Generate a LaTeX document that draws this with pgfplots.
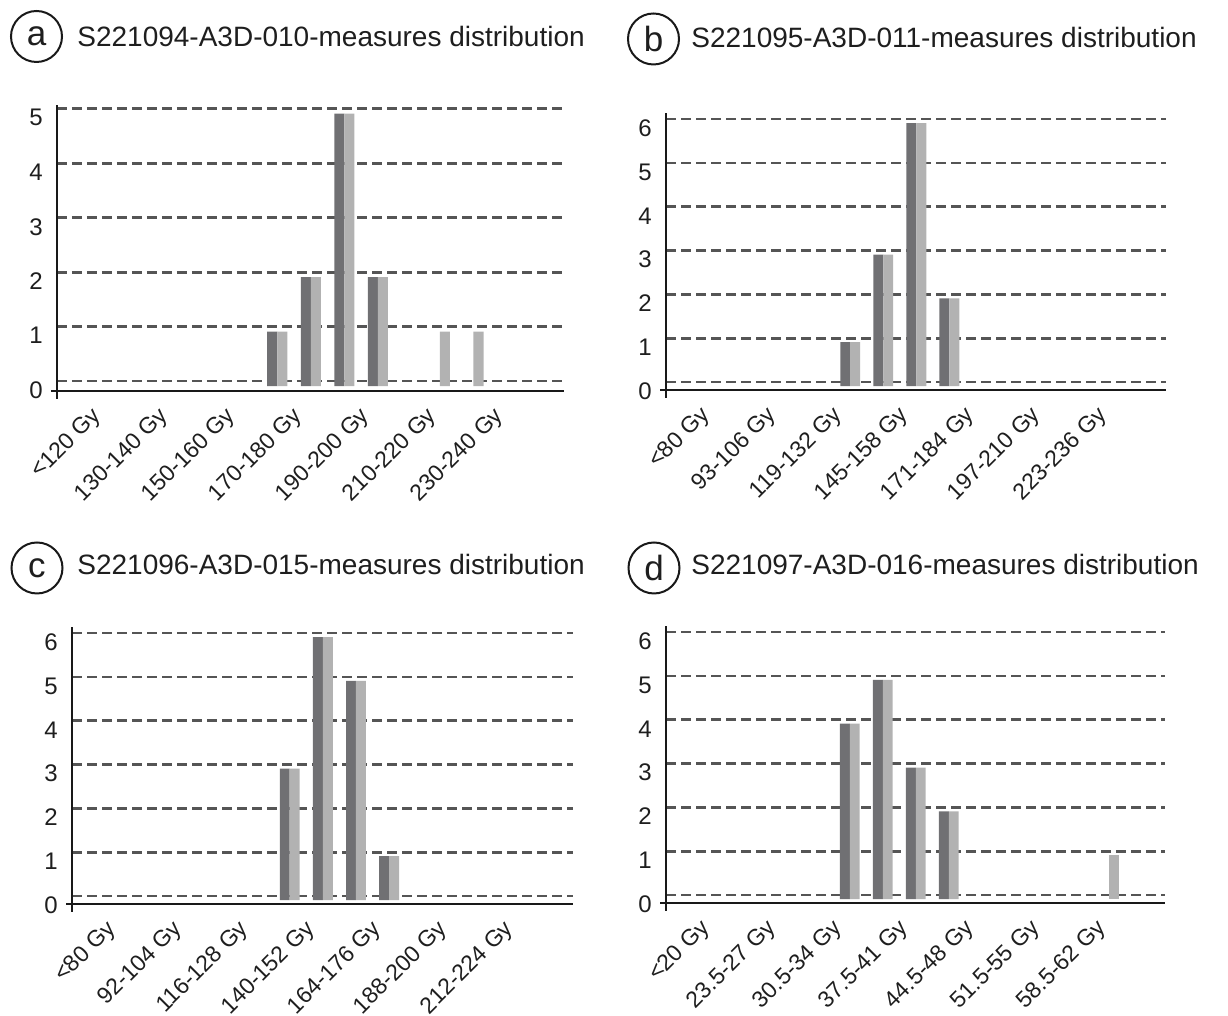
\documentclass[border=0pt]{standalone}
\usepackage{pgfplots}
\pgfplotsset{compat=1.18}
\usepackage{fontspec}
\setmainfont{Liberation Sans}
\definecolor{darkbar}{RGB}{112,112,115}
\definecolor{lightbar}{RGB}{178,178,178}
\definecolor{gridc}{RGB}{85,85,85}
\definecolor{axisc}{RGB}{25,25,25}
\definecolor{txt}{RGB}{30,30,30}
\pgfplotsset{
  panel/.style={
    scale only axis, anchor=south west,
    xmin=-0.57, xmax=14.55, ymin=-0.09,
    axis x line=bottom, axis y line=left,
    axis line style={line width=1.2pt, color=axisc},
    x axis line style={-, shorten <=-3pt},
    y axis line style={-, shorten <=-4pt},
    xtick={0,2,...,12}, xtick style={draw=none},
    xticklabel style={rotate=45, anchor=north east, inner sep=0pt, yshift=-10pt, text=txt, font=\fontsize{11.5}{12}\selectfont},
    yticklabel style={anchor=east, inner sep=0pt, xshift=-7pt, yshift=-4.5pt, text=txt, font=\fontsize{12}{13}\selectfont},
    ymajorgrids, major grid style={dash pattern=on 5pt off 2.5pt, line width=1.3pt, color=gridc},
    ytick style={color=gridc, line width=0.8pt}, tick align=inside, major tick length=2.5pt,
    clip=false,
  },
  darkb/.style={ybar, bar width=0.3, bar shift=-0.15, fill=darkbar, draw=none},
  lightb/.style={ybar, bar width=0.3, bar shift=0.15, fill=lightbar, draw=none},
  lightc/.style={ybar, bar width=0.3, bar shift=0, fill=lightbar, draw=none},
  ticks5/.style={ytick={0.09,1.09,2.09,3.09,4.09,5.09}, yticklabels={0,1,2,3,4,5}},
  ticks6/.style={ytick={0.09,1.09,2.09,3.09,4.09,5.09,6.09}, yticklabels={0,1,2,3,4,5,6}},
}
\tikzset{lettercirc/.style={circle, draw=axisc, line width=1pt, minimum size=25.5pt, inner sep=0pt, text=txt, font=\fontsize{17.5}{18}\selectfont},
  ttl/.style={anchor=base west, inner sep=0pt, text=txt, font=\fontsize{14}{16}\selectfont}}
\begin{document}
\begin{tikzpicture}
\useasboundingbox (0,0) rectangle (614pt,508pt);
% titles
\node[lettercirc] at (18.25pt,489.75pt) {a};
\node[ttl] at (38.5pt,484.5pt) {S221094-A3D-010-measures distribution};
\node[lettercirc] at (326.75pt,488.5pt) {b};
\node[ttl] at (345.5pt,484.2pt) {S221095-A3D-011-measures distribution};
\node[lettercirc] at (18.5pt,224pt) {c};
\node[ttl] at (38.5pt,220.5pt) {S221096-A3D-015-measures distribution};
\node[lettercirc] at (327pt,224pt) {d};
\node[ttl] at (345.5pt,220.5pt) {S221097-A3D-016-measures distribution};

% panel a
\begin{axis}[panel, at={(28.5pt,312.5pt)}, width=253.5pt, height=143pt, ymax=5.16, ticks5,
  xticklabels={<120 Gy,130-140 Gy,150-160 Gy,170-180 Gy,190-200 Gy,210-220 Gy,230-240 Gy}]
\addplot[darkb] coordinates {(6,1) (7,2) (8,5) (9,2)};
\addplot[lightb] coordinates {(6,1) (7,2) (8,5) (9,2)};
\addplot[lightc] coordinates {(11,1) (12,1)};
\end{axis}

% panel b
\begin{axis}[panel, at={(333pt,313pt)}, width=250pt, height=138.5pt, ymax=6.23, ticks6,
  xticklabels={<80 Gy,93-106 Gy,119-132 Gy,145-158 Gy,171-184 Gy,197-210 Gy,223-236 Gy}]
\addplot[darkb] coordinates {(5,1) (6,3) (7,6) (8,2)};
\addplot[lightb] coordinates {(5,1) (6,3) (7,6) (8,2)};
\end{axis}

% panel c
\begin{axis}[panel, at={(36pt,56pt)}, width=250.5pt, height=138.5pt, ymax=6.23, ticks6,
  xticklabels={<80 Gy,92-104 Gy,116-128 Gy,140-152 Gy,164-176 Gy,188-200 Gy,212-224 Gy}]
\addplot[darkb] coordinates {(6,3) (7,6) (8,5) (9,1)};
\addplot[lightb] coordinates {(6,3) (7,6) (8,5) (9,1)};
\end{axis}

% panel d
\begin{axis}[panel, at={(333pt,56.5pt)}, width=249.5pt, height=138.5pt, ymax=6.23, ticks6,
  xticklabels={<20 Gy,23.5-27 Gy,30.5-34 Gy,37.5-41 Gy,44.5-48 Gy,51.5-55 Gy,58.5-62 Gy}]
\addplot[darkb] coordinates {(5,4) (6,5) (7,3) (8,2)};
\addplot[lightb] coordinates {(5,4) (6,5) (7,3) (8,2)};
\addplot[lightc] coordinates {(13,1)};
\end{axis}
\end{tikzpicture}
\end{document}
